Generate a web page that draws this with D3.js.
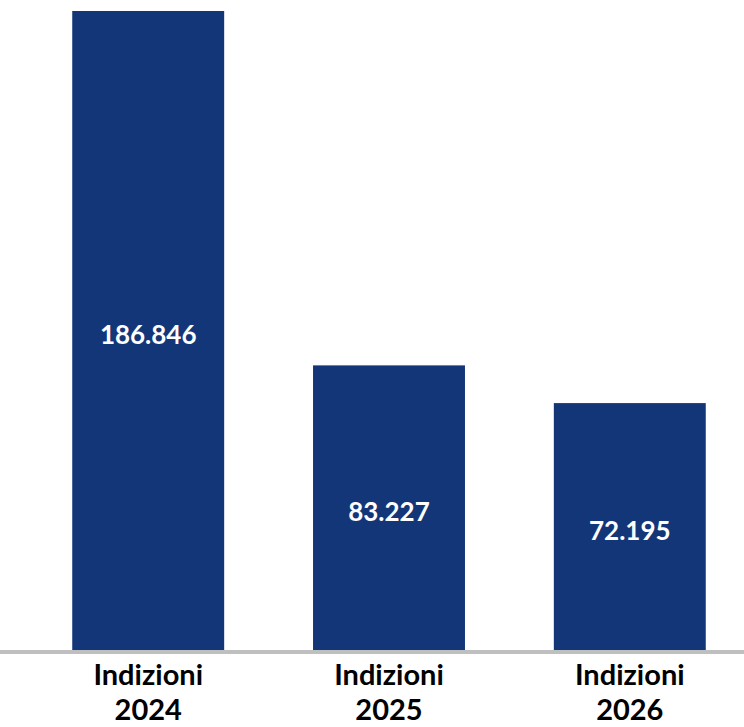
<!DOCTYPE html>
<html>
<head>
<meta charset="utf-8">
<script src="https://cdn.jsdelivr.net/npm/d3@7"></script>
<style>
  html, body { margin: 0; padding: 0; background: #ffffff; }
  svg { display: block; }
</style>
</head>
<body>
<svg id="chart" width="744" height="727"></svg>
<script>
const categories = ["Indizioni 2024", "Indizioni 2025", "Indizioni 2026"];
const values = [186846, 83227, 72195];
const valueLabels = ["186.846", "83.227", "72.195"];

const width = 744, height = 727;
const baseY = 650;
const svg = d3.select("#chart");

const x = d3.scaleBand()
  .domain(categories)
  .range([0, 778])
  .paddingInner(0.369)
  .paddingOuter(0.3);

const y = d3.scaleLinear()
  .domain([0, d3.max(values)])
  .range([baseY, 11]);

const data = categories.map((c, i) => ({ cat: c, value: values[i], label: valueLabels[i] }));

svg.selectAll("rect.bar")
  .data(data)
  .join("rect")
  .attr("class", "bar")
  .attr("x", d => x(d.cat))
  .attr("y", d => y(d.value))
  .attr("width", x.bandwidth())
  .attr("height", d => y(0) - y(d.value))
  .attr("fill", "#133679");

// baseline axis line
svg.append("line")
  .attr("x1", 0).attr("x2", width)
  .attr("y1", baseY + 2).attr("y2", baseY + 2)
  .attr("stroke", "#bfbfbf")
  .attr("stroke-width", 4);

// value labels
svg.selectAll("text.val")
  .data(data)
  .join("text")
  .attr("class", "val")
  .attr("x", d => x(d.cat) + x.bandwidth() / 2)
  .attr("y", d => (y(d.value) + y(0)) / 2 + 13)
  .attr("text-anchor", "middle")
  .attr("fill", "#ffffff")
  .style("font-family", "Lato, 'Open Sans', sans-serif")
  .style("font-weight", "bold")
  .style("font-size", "26px")
  .text(d => d.label);

// category labels (two lines)
const catG = svg.selectAll("text.cat")
  .data(data)
  .join("text")
  .attr("class", "cat")
  .attr("text-anchor", "middle")
  .attr("fill", "#000000")
  .style("font-family", "Lato, 'Open Sans', sans-serif")
  .style("font-weight", "bold")
  .style("font-size", "29px");

catG.each(function(d) {
  const parts = d.cat.split(" ");
  const t = d3.select(this);
  const cx = x(d.cat) + x.bandwidth() / 2;
  parts.forEach((p, i) => {
    t.append("tspan")
      .attr("x", cx)
      .attr("y", 685 + i * 35)
      .text(p);
  });
});
</script>
</body>
</html>
